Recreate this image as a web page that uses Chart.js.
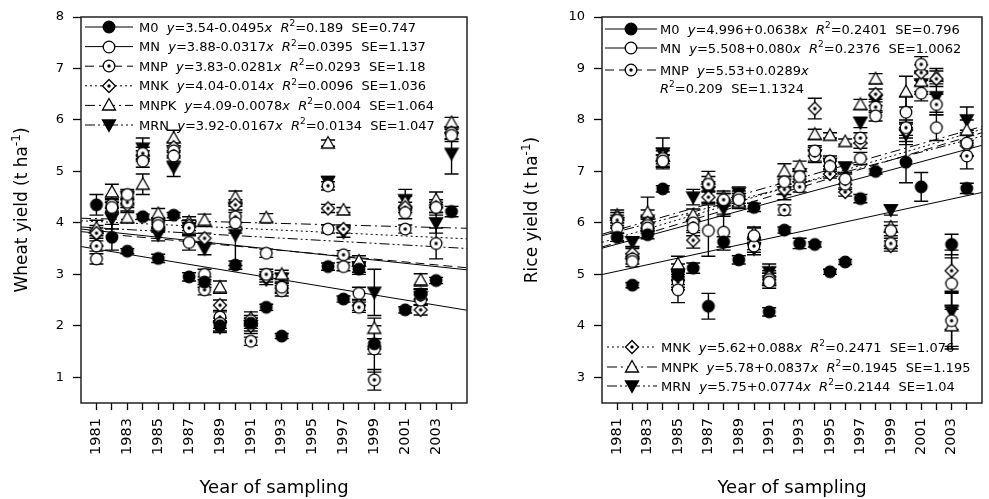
<!DOCTYPE html>
<html>
<head>
<meta charset="utf-8">
<script src="https://cdn.jsdelivr.net/npm/chart.js@4.4.1/dist/chart.umd.min.js"></script>
<style>
  body { margin: 0; background: #fff; width: 989px; height: 499px; overflow: hidden; position: relative; }
  canvas { position: absolute; top: 0; }
  #wheat { left: 0; }
  #rice { left: 494px; }
</style>
</head>
<body>
<canvas id="wheat" width="494" height="499"></canvas>
<canvas id="rice" width="495" height="499"></canvas>
<script>
// ---- Data ----
const seriesNames = ['M0', 'MN', 'MNP', 'MNK', 'MNPK', 'MRN'];
const xTickYears = [1981, 1982, 1983, 1984, 1985, 1986, 1987, 1988, 1989, 1990, 1991, 1992,
  1993, 1994, 1995, 1996, 1997, 1998, 1999, 2000, 2001, 2002, 2003, 2004];
const wheatYTicks = [1, 2, 3, 4, 5, 6, 7, 8];
const riceYTicks = [3, 4, 5, 6, 7, 8, 9, 10];

// Wheat
const wheatYears = [1981, 1982, 1983, 1984, 1985, 1986, 1987, 1988, 1989, 1990, 1991, 1992, 1993,
  1996, 1997, 1998, 1999, 2001, 2002, 2003, 2004];
const wheatM0   = [4.35, 3.72, 3.45, 4.12, 3.31, 4.15, 2.95, 2.85, 2.0, 3.18, 2.05, 2.36, 1.8, 3.15, 2.52, 3.1, 1.65, 2.31, 2.62, 2.88, 4.22];
const wheatMN   = [3.3, 4.3, 4.55, 5.2, 3.95, 5.3, 3.62, 3.0, 2.05, 4.0, 2.1, 3.41, 2.75, 3.88, 3.15, 2.63, 1.55, 4.2, 2.6, 4.3, 5.7];
const wheatMNP  = [3.55, 4.35, 4.4, 5.35, 4.0, 5.4, 3.9, 2.7, 2.17, 4.12, 1.7, 3.0, 2.68, 4.72, 3.38, 2.36, 0.95, 3.88, 2.5, 3.6, 5.75];
const wheatMNK  = [3.8, 4.3, 4.35, 5.3, 3.92, 5.47, 3.95, 3.7, 2.4, 4.35, 2.0, 2.95, 2.73, 4.28, 3.88, 2.4, 1.6, 4.3, 2.31, 4.3, 5.75];
const wheatMNPK = [3.9, 4.6, 4.1, 4.75, 4.18, 5.65, 4.02, 4.05, 2.75, 4.5, 2.15, 4.1, 3.0, 5.55, 4.25, 3.26, 1.95, 4.4, 2.89, 4.45, 5.95];
const wheatMRN  = [3.75, 4.08, 4.5, 5.45, 3.77, 5.08, 3.9, 3.5, 1.97, 3.77, 2.0, 2.9, 2.92, 4.8, 3.82, 3.14, 2.65, 4.45, 2.56, 4.0, 5.35];
// standard errors
const wheatSeM0   = [0.2, 0.25, 0.05, 0.05, 0.08, 0.05, 0.08, 0.1, 0.1, 0.08, 0.1, 0.06, 0.05, 0.07, 0.06, 0.1, 0.1, 0.06, 0.1, 0.06, 0.1];
const wheatSeMN   = [0.1, 0.1, 0.1, 0.12, 0.1, 0.1, 0.15, 0.1, 0.1, 0.2, 0.1, 0.08, 0.1, 0.08, 0.08, 0.12, 0.45, 0.12, 0.1, 0.15, 0.12];
const wheatSeMNP  = [0.1, 0.12, 0.1, 0.12, 0.1, 0.1, 0.1, 0.1, 0.1, 0.2, 0.08, 0.1, 0.1, 0.08, 0.08, 0.1, 0.2, 0.08, 0.1, 0.3, 0.12];
const wheatSeMNK  = [0.1, 0.1, 0.12, 0.1, 0.1, 0.1, 0.1, 0.1, 0.1, 0.1, 0.1, 0.1, 0.1, 0.08, 0.08, 0.1, 0.15, 0.1, 0.1, 0.1, 0.12];
const wheatSeMNPK = [0.15, 0.15, 0.1, 0.2, 0.1, 0.15, 0.1, 0.12, 0.12, 0.12, 0.12, 0.08, 0.08, 0.06, 0.05, 0.1, 0.2, 0.12, 0.12, 0.15, 0.1];
const wheatSeMRN  = [0.2, 0.2, 0.12, 0.2, 0.12, 0.18, 0.15, 0.12, 0.1, 0.6, 0.15, 0.1, 0.1, 0.1, 0.1, 0.1, 0.45, 0.2, 0.15, 0.2, 0.4];
// regression y = a + b*x, x = year - 1980
const wheatIntercepts = [3.54, 3.88, 3.83, 4.04, 4.09, 3.92];
const wheatSlopes = [-0.0495, -0.0317, -0.0281, -0.014, -0.0078, -0.0167];
const wheatLegend = [
  'M0  _y_=3.54-0.0495_x_  _R_^2^=0.189  SE=0.747',
  'MN  _y_=3.88-0.0317_x_  _R_^2^=0.0395  SE=1.137',
  'MNP  _y_=3.83-0.0281_x_  _R_^2^=0.0293  SE=1.18',
  'MNK  _y_=4.04-0.014_x_  _R_^2^=0.0096  SE=1.036',
  'MNPK  _y_=4.09-0.0078_x_  _R_^2^=0.004  SE=1.064',
  'MRN  _y_=3.92-0.0167_x_  _R_^2^=0.0134  SE=1.047'
];

// Rice
const riceYears = [1981, 1982, 1983, 1984, 1985, 1986, 1987, 1988, 1989, 1990, 1991, 1992,
  1993, 1994, 1995, 1996, 1997, 1998, 1999, 2000, 2001, 2002, 2003, 2004];
const riceM0   = [5.72, 4.79, 5.77, 6.66, 4.98, 5.12, 4.38, 5.63, 5.28, 6.3, 4.27, 5.86, 5.6, 5.58, 5.05, 5.24, 6.47, 7.0, null, 7.18, 6.7, null, 5.58, 6.67];
const riceMN   = [5.9, 5.25, 5.9, 7.2, 4.7, 5.9, 5.85, 5.82, 6.45, 5.75, 4.85, 6.8, 6.9, 7.4, 7.1, 6.85, 7.25, 8.08, 5.85, 8.15, 8.52, 7.85, 4.82, 7.55];
const riceMNP  = [6.05, 5.3, 5.95, 7.25, 4.85, 6.0, 6.75, 6.45, 6.5, 5.55, 4.9, 6.25, 6.7, 7.3, 7.2, 6.75, 7.65, 8.25, 5.6, 7.85, 9.08, 8.3, 4.1, 7.3];
const riceMNK  = [6.1, 5.4, 6.0, 7.2, 4.9, 5.66, 6.5, 6.45, 6.45, 5.6, 4.95, 6.65, 6.8, 8.22, 6.95, 6.6, 7.55, 8.5, 5.55, 7.8, 8.92, 8.8, 5.07, 7.5];
const riceMNPK = [6.15, 5.42, 6.2, 7.3, 5.2, 6.15, 6.85, 6.5, 6.4, 5.8, 4.9, 7.0, 7.1, 7.72, 7.7, 7.58, 8.3, 8.8, 5.92, 8.55, 8.75, 8.85, 4.0, 7.8];
const riceMRN  = [6.0, 5.63, 6.05, 7.35, 5.0, 6.5, 6.6, 6.28, 6.58, 5.5, 5.05, 6.6, 6.95, 7.32, 7.15, 7.08, 7.95, 8.38, 6.25, 7.72, 8.7, 8.45, 4.28, 8.0];
const riceSeM0   = [0.08, 0.05, 0.08, 0.06, 0.1, 0.1, 0.25, 0.1, 0.08, 0.08, 0.08, 0.06, 0.1, 0.05, 0.05, 0.05, 0.08, 0.05, null, 0.4, 0.28, null, 0.2, 0.1];
const riceSeMN   = [0.1, 0.1, 0.1, 0.12, 0.25, 0.15, 0.5, 0.35, 0.12, 0.15, 0.12, 0.1, 0.1, 0.1, 0.1, 0.1, 0.12, 0.1, 0.1, 0.3, 0.15, 0.25, 0.5, 0.25];
const riceSeMNP  = [0.1, 0.1, 0.12, 0.15, 0.15, 0.15, 0.15, 0.12, 0.12, 0.12, 0.12, 0.1, 0.1, 0.1, 0.1, 0.1, 0.1, 0.1, 0.1, 0.15, 0.15, 0.2, 0.55, 0.25];
const riceSeMNK  = [0.1, 0.1, 0.12, 0.12, 0.15, 0.15, 0.12, 0.12, 0.12, 0.12, 0.12, 0.1, 0.1, 0.2, 0.08, 0.08, 0.1, 0.1, 0.1, 0.15, 0.15, 0.15, 0.4, 0.2];
const riceSeMNPK = [0.1, 0.12, 0.3, 0.15, 0.15, 0.12, 0.15, 0.12, 0.12, 0.12, 0.12, 0.15, 0.1, 0.1, 0.05, 0.05, 0.1, 0.1, 0.1, 0.3, 0.2, 0.15, 0.4, 0.2];
const riceSeMRN  = [0.1, 0.1, 0.2, 0.3, 0.2, 0.15, 0.2, 0.15, 0.12, 0.12, 0.15, 0.15, 0.1, 0.15, 0.1, 0.1, 0.1, 0.1, 0.1, 0.2, 0.2, 0.3, 0.35, 0.25];
const riceIntercepts = [4.996, 5.508, 5.53, 5.62, 5.78, 5.75];
const riceSlopes = [0.0638, 0.080, 0.0889, 0.088, 0.0837, 0.0774]; // MNP line drawn as in figure
const riceLegend = [
  'M0  _y_=4.996+0.0638_x_  _R_^2^=0.2401  SE=0.796',
  'MN  _y_=5.508+0.080_x_  _R_^2^=0.2376  SE=1.0062',
  'MNP  _y_=5.53+0.0289_x_',
  'MNK  _y_=5.62+0.088_x_  _R_^2^=0.2471  SE=1.076',
  'MNPK  _y_=5.78+0.0837_x_  _R_^2^=0.1945  SE=1.195',
  'MRN  _y_=5.75+0.0774_x_  _R_^2^=0.2144  SE=1.04'
];
const riceLegendExtra = '_R_^2^=0.209  SE=1.1324';

const baseYear = 1980;
const FONT = 'DejaVu Sans';

// ---- Styles ----
const markerKinds = ['filledCircle', 'openCircle', 'circleDot', 'diamondDot', 'triangle', 'invTriangle'];
const lineDashes = [[], [], [9, 5], [2, 3], [10, 4, 2, 4], [10, 3, 2, 3, 2, 3]];

function makeMarker(kind) {
  const c = document.createElement('canvas');
  c.width = 16; c.height = 16;
  const g = c.getContext('2d');
  const m = 8;
  g.lineWidth = 1.3;
  g.strokeStyle = '#000';
  g.fillStyle = kind === 'filledCircle' || kind === 'invTriangle' ? '#000' : '#fff';
  g.beginPath();
  if (kind === 'diamondDot') {
    g.moveTo(m, m - 6.5); g.lineTo(m + 6.5, m); g.lineTo(m, m + 6.5); g.lineTo(m - 6.5, m); g.closePath();
  } else if (kind === 'triangle') {
    g.moveTo(m, m - 6.5); g.lineTo(m + 6.5, m + 5); g.lineTo(m - 6.5, m + 5); g.closePath();
  } else if (kind === 'invTriangle') {
    g.moveTo(m - 6.5, m - 5); g.lineTo(m + 6.5, m - 5); g.lineTo(m, m + 6.5); g.closePath();
  } else {
    g.arc(m, m, 5.8, 0, Math.PI * 2);
  }
  g.fill();
  g.stroke();
  if (kind === 'circleDot' || kind === 'diamondDot') {
    g.fillStyle = '#000';
    g.beginPath();
    g.arc(m, m, 1.7, 0, Math.PI * 2);
    g.fill();
  }
  return c;
}
const markers = markerKinds.map(makeMarker);

// ---- Rich text helpers (italic, superscript) ----
function parseRich(str) {
  const segs = [];
  let italic = false, buf = '';
  for (let i = 0; i < str.length; i++) {
    const ch = str[i];
    if (ch === '_') {
      if (buf) segs.push({ t: buf, italic, sup: false });
      buf = ''; italic = !italic;
    } else if (ch === '^') {
      if (buf) segs.push({ t: buf, italic, sup: false });
      buf = '';
      const end = str.indexOf('^', i + 1);
      segs.push({ t: str.slice(i + 1, end), italic, sup: true });
      i = end;
    } else {
      buf += ch;
    }
  }
  if (buf) segs.push({ t: buf, italic, sup: false });
  return segs;
}

function segFont(seg, size) {
  return (seg.italic ? 'italic ' : '') + (seg.sup ? Math.round(size * 0.7) : size) + 'px "' + FONT + '"';
}

function drawRich(ctx, str, x, y, size, align) {
  const segs = parseRich(str);
  let total = 0;
  segs.forEach(s => { ctx.font = segFont(s, size); s.w = ctx.measureText(s.t).width; total += s.w; });
  let cx = align === 'center' ? x - total / 2 : x;
  ctx.textAlign = 'left';
  ctx.textBaseline = 'alphabetic';
  segs.forEach(s => {
    ctx.font = segFont(s, size);
    ctx.fillText(s.t, cx, s.sup ? y - size * 0.42 : y);
    cx += s.w;
  });
}

// ---- Plugins ----
const errorBars = {
  id: 'errorBars',
  beforeDatasetsDraw(chart) {
    const { ctx, scales: { x, y } } = chart;
    ctx.save();
    ctx.strokeStyle = '#000';
    ctx.lineWidth = 1.4;
    chart.data.datasets.forEach(ds => {
      if (ds.type !== 'scatter') return;
      ds.data.forEach(p => {
        if (p.se == null) return;
        const px = x.getPixelForValue(p.x);
        const top = y.getPixelForValue(p.y + p.se);
        const bot = y.getPixelForValue(p.y - p.se);
        ctx.beginPath();
        ctx.moveTo(px, top); ctx.lineTo(px, bot);
        ctx.moveTo(px - 7, top); ctx.lineTo(px + 7, top);
        ctx.moveTo(px - 7, bot); ctx.lineTo(px + 7, bot);
        ctx.stroke();
      });
    });
    ctx.restore();
  }
};

const frameAndText = {
  id: 'frameAndText',
  afterDraw(chart, args, opts) {
    const { ctx, chartArea: a } = chart;
    ctx.save();
    // frame
    ctx.strokeStyle = '#222';
    ctx.lineWidth = 1.5;
    ctx.strokeRect(a.left, a.top, a.right - a.left, a.bottom - a.top);
    ctx.fillStyle = '#000';
    // legend rows
    opts.rows.forEach(r => {
      if (r.marker != null) {
        ctx.save();
        ctx.strokeStyle = '#000';
        ctx.lineWidth = 1;
        ctx.setLineDash(lineDashes[r.marker]);
        ctx.beginPath();
        ctx.moveTo(r.x0, r.y); ctx.lineTo(r.x1, r.y);
        ctx.stroke();
        ctx.restore();
        const img = markers[r.marker];
        ctx.drawImage(img, Math.round((r.x0 + r.x1) / 2 - img.width / 2), Math.round(r.y - img.height / 2));
      }
      drawRich(ctx, r.text, r.tx, r.y + 4.5, 13, 'left');
    });
    // axis titles
    drawRich(ctx, 'Year of sampling', (a.left + a.right) / 2, 493, 18, 'center');
    ctx.translate(opts.yTitleX, (a.top + a.bottom) / 2);
    ctx.rotate(-Math.PI / 2);
    drawRich(ctx, opts.yTitle, 0, 0, 17, 'center');
    ctx.restore();
  }
};

// ---- Chart builder ----
function buildChart(id, d) {
  const xMin = 1980, xMax = 2005;
  const datasets = [];
  d.intercepts.forEach((a, i) => {
    datasets.push({
      type: 'line',
      order: 20,
      data: [
        { x: xMin, y: a + d.slopes[i] * (xMin - baseYear) },
        { x: xMax, y: a + d.slopes[i] * (xMax - baseYear) }
      ],
      borderColor: '#000',
      borderWidth: 1,
      borderDash: lineDashes[i],
      pointRadius: 0,
      fill: false
    });
  });
  d.values.forEach((vals, i) => {
    datasets.push({
      type: 'scatter',
      order: i,
      label: seriesNames[i],
      data: d.years.map((yr, j) => ({ x: yr, y: vals[j], se: d.errors[i][j] })).filter(p => p.y != null),
      pointStyle: markers[i],
      pointRadius: 6
    });
  });

  return new Chart(document.getElementById(id), {
    type: 'scatter',
    data: { datasets },
    plugins: [errorBars, frameAndText],
    options: {
      responsive: false,
      animation: false,
      devicePixelRatio: 1,
      layout: { padding: { top: 17, right: d.padRight, left: 0, bottom: 0 } },
      plugins: {
        legend: { display: false },
        tooltip: { enabled: false },
        frameAndText: { rows: d.legendRows, yTitle: d.yTitle, yTitleX: d.yTitleX }
      },
      scales: {
        x: {
          type: 'linear',
          min: xMin,
          max: xMax,
          afterBuildTicks: s => { s.ticks = xTickYears.map(v => ({ value: v })); },
          afterFit: s => { s.height = 96; s.paddingLeft = 0; s.paddingRight = 0; },
          border: { display: false },
          grid: { drawOnChartArea: false, drawTicks: true, tickLength: 7, tickColor: '#000', tickWidth: 1.3 },
          ticks: {
            autoSkip: false,
            maxRotation: 90,
            minRotation: 90,
            padding: 8,
            color: '#000',
            font: { family: FONT, size: 14.5 },
            callback: v => (v % 2 === 1 ? String(v) : '')
          }
        },
        y: {
          type: 'linear',
          min: d.yMin,
          max: d.yMax,
          afterBuildTicks: s => { s.ticks = d.yTicks.map(v => ({ value: v })); },
          afterFit: s => { s.width = d.yWidth; },
          border: { display: false },
          grid: { drawOnChartArea: false, drawTicks: true, tickLength: 8, tickColor: '#000', tickWidth: 1.3 },
          ticks: {
            padding: 9,
            color: '#000',
            font: { family: FONT, size: 13 },
            callback: v => String(v)
          }
        }
      }
    }
  });
}

Chart.defaults.font.family = FONT;

// wheat legend rows (layout)
const wheatRows = wheatLegend.map((t, i) => ({
  marker: i, text: t, x0: 85, x1: 133, tx: 139, y: 27 + i * 19.6
}));
buildChart('wheat', {
  years: wheatYears,
  values: [wheatM0, wheatMN, wheatMNP, wheatMNK, wheatMNPK, wheatMRN],
  errors: [wheatSeM0, wheatSeMN, wheatSeMNP, wheatSeMNK, wheatSeMNPK, wheatSeMRN],
  intercepts: wheatIntercepts,
  slopes: wheatSlopes,
  yMin: 0.5, yMax: 8, yTicks: wheatYTicks,
  yWidth: 81, padRight: 27,
  yTitle: 'Wheat yield (t ha^-1^)', yTitleX: 27,
  legendRows: wheatRows
});

const riceRows = [
  { marker: 0, text: riceLegend[0], x0: 111, x1: 163, tx: 166, y: 29 },
  { marker: 1, text: riceLegend[1], x0: 111, x1: 163, tx: 166, y: 48 },
  { marker: 2, text: riceLegend[2], x0: 111, x1: 163, tx: 166, y: 70 },
  { marker: null, text: riceLegendExtra, tx: 166, y: 88 },
  { marker: 3, text: riceLegend[3], x0: 113, x1: 163, tx: 167, y: 347 },
  { marker: 4, text: riceLegend[4], x0: 113, x1: 163, tx: 167, y: 367 },
  { marker: 5, text: riceLegend[5], x0: 113, x1: 163, tx: 167, y: 386 }
];
buildChart('rice', {
  years: riceYears,
  values: [riceM0, riceMN, riceMNP, riceMNK, riceMNPK, riceMRN],
  errors: [riceSeM0, riceSeMN, riceSeMNP, riceSeMNK, riceSeMNPK, riceSeMRN],
  intercepts: riceIntercepts,
  slopes: riceSlopes,
  yMin: 2.5, yMax: 10, yTicks: riceYTicks,
  yWidth: 108, padRight: 1,
  yTitle: 'Rice yield (t ha^-1^)', yTitleX: 43,
  legendRows: riceRows
});
</script>
</body>
</html>
